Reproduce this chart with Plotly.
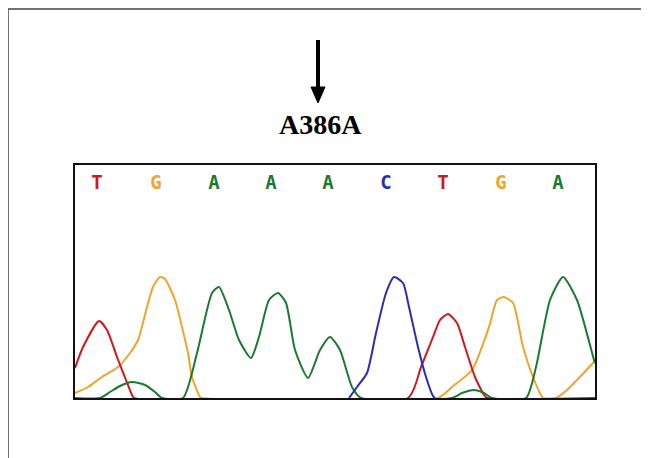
import plotly.graph_objects as go

# ---- data (scan position, signal intensity) ----
bases = ["T", "G", "A", "A", "A", "C", "T", "G", "A"]
base_pos = [22, 81, 139, 196, 253, 311, 368, 426, 483]

green_x = [0, 25, 35, 45, 57, 70, 80, 87, 108, 122, 137, 144, 154, 164, 176, 184, 194, 203, 211, 220, 233, 245, 255, 265, 277, 286, 377, 387, 399, 409, 417, 451, 461, 475, 488, 502, 519, 520]
green_y = [0, 0, 6, 12, 16, 13, 6, 0, 0, 45, 105, 111, 88, 58, 40, 61, 98, 105, 95, 48, 20, 48, 61, 48, 11, 0, 0, 5, 8, 5, 0, 0, 31, 98, 121, 98, 38, 35]

red_x = [0, 8, 24, 32, 42, 51, 57, 59, 333, 346, 358, 365, 373, 382, 390, 400, 409, 412, 520]
red_y = [30, 51, 77, 68, 41, 18, 3, 0, 0, 31, 61, 78, 84, 75, 51, 21, 3, 0, 0]

orange_x = [0, 13, 27, 43, 55, 63, 72, 78, 85, 90, 100, 107, 113, 117, 125, 127, 363, 377, 397, 414, 422, 429, 438, 448, 458, 466, 468, 481, 492, 502, 519]
orange_y = [5, 11, 21, 31, 45, 58, 91, 111, 121, 119, 98, 71, 45, 21, 1, 0, 0, 11, 28, 71, 98, 101, 95, 51, 21, 3, 0, 0, 8, 18, 36]

blue_x = [274, 282, 292, 301, 311, 319, 328, 334, 343, 351, 358, 360]
blue_y = [0, 11, 25, 65, 105, 121, 115, 91, 51, 21, 2, 0]

COL = {"A": "#1b7a30", "T": "#d0181c", "G": "#efa52c", "C": "#2b2bb5"}

W, H = 649, 458
OFF = 8  # page body margin
L, R, T, B = 75 - OFF, 595 - OFF, 165 - OFF, 398 - OFF


def px(x):
    return (x - OFF - L) / (R - L)


def py(y):
    return (B - (y - OFF)) / (B - T)


fig = go.Figure()
for xs, ys, c in [(orange_x, orange_y, COL["G"]), (red_x, red_y, COL["T"]),
                  (green_x, green_y, COL["A"]), (blue_x, blue_y, COL["C"])]:
    fig.add_trace(go.Scatter(x=xs, y=ys, mode="lines", line=dict(color=c, width=2, shape="spline", smoothing=0.6),
                             hoverinfo="skip", showlegend=False))

fig.add_trace(go.Scatter(x=base_pos, y=[214] * len(bases), mode="text", text=bases,
                         textfont=dict(family="DejaVu Sans Mono", size=19, color=[COL[b] for b in bases], weight="bold"),
                         hoverinfo="skip", showlegend=False))

shapes = [
    # outer frame
    dict(type="rect", xref="paper", yref="paper", x0=px(8), x1=px(720), y0=py(520), y1=py(9),
         line=dict(color="#444444", width=1.5)),
    # arrow shaft
    dict(type="line", xref="paper", yref="paper", x0=px(318), x1=px(318), y0=py(40), y1=py(90),
         line=dict(color="black", width=4)),
    # arrow head
    dict(type="path", xref="paper", yref="paper",
         path=f"M {px(311)} {py(87)} L {px(325)} {py(87)} L {px(318)} {py(103)} Z",
         fillcolor="black", line=dict(color="black", width=1)),
]

fig.update_layout(
    width=W, height=H,
    margin=dict(l=L, r=W - R, t=T, b=H - B),
    paper_bgcolor="white", plot_bgcolor="white",
    shapes=shapes,
    annotations=[dict(text="<b>A386A</b>", xref="paper", yref="paper", x=px(320), y=py(124),
                      xanchor="center", yanchor="middle", showarrow=False,
                      font=dict(family="Liberation Serif", size=28, color="black"))],
    xaxis=dict(range=[0, 520], showgrid=False, zeroline=False, showticklabels=False, ticks="",
               showline=True, mirror=True, linecolor="#111111", linewidth=2),
    yaxis=dict(range=[0, 233], showgrid=False, zeroline=False, showticklabels=False, ticks="",
               showline=True, mirror=True, linecolor="#111111", linewidth=2),
)

fig.write_html("out.html")
